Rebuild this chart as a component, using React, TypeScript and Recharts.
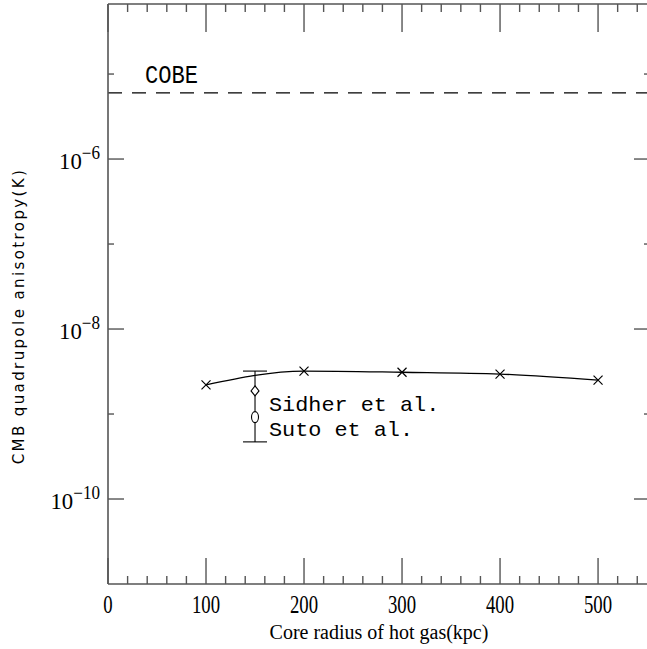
import React from "react";
import {
  ComposedChart,
  Line,
  Scatter,
  XAxis,
  YAxis,
  ReferenceLine,
  ErrorBar,
} from "recharts";

// model: anisotropy vs core radius
const radii = [100, 200, 300, 400, 500];
const anisotropy = [2.2e-9, 3.2e-9, 3.1e-9, 2.95e-9, 2.5e-9];

// observed values at r = 150 kpc
const obsRadius = 150;
const obsLabels = ["Sidher et al.", "Suto et al."];
const obsValues = [1.87e-9, 9.2e-10];
const obsBarLow = 4.7e-10;
const obsBarHigh = 3.2e-9;

const cobeLevel = 6.0e-6;

const xDomain = [0, 553];
const yDomain = [1e-11, 6.67e-5];
const xTicks = [
  0, 20, 40, 60, 80, 100, 120, 140, 160, 180, 200, 220, 240, 260, 280, 300,
  320, 340, 360, 380, 400, 420, 440, 460, 480, 500, 520, 540,
];
const xLabeled = [0, 100, 200, 300, 400, 500];
const yTicks = [1e-10, 1e-9, 1e-8, 1e-7, 1e-6, 1e-5];
const yLabeled = [1e-10, 1e-8, 1e-6];

const frame = "#555";
const serif = "'Liberation Serif', serif";
const mono = "'Liberation Mono', monospace";

const modelData = radii.map((r, i) => ({ r, v: anisotropy[i] }));
const barData = [
  {
    r: obsRadius,
    v: obsValues[0],
    err: [obsValues[0] - obsBarLow, obsBarHigh - obsValues[0]],
  },
];
const sidherData = [{ r: obsRadius, v: obsValues[0], label: obsLabels[0] }];
const sutoData = [{ r: obsRadius, v: obsValues[1], label: obsLabels[1] }];

const isMajorY = (v: number) => yLabeled.some((t) => Math.abs(t - v) / t < 1e-6);

function BottomTick(p: any) {
  const v = p.payload.value;
  const major = xLabeled.includes(v);
  return (
    <g>
      <line x1={p.x} x2={p.x} y1={p.y} y2={p.y - (major ? 26 : 8)} stroke={frame} strokeWidth={1.4} />
      {major && (
        <g transform={`translate(${p.x},${p.y + 29}) scale(0.75,1)`}>
          <text textAnchor="middle" fontFamily={serif} fontSize={25} fill="#000">
            {v}
          </text>
        </g>
      )}
    </g>
  );
}

function TopTick(p: any) {
  const major = xLabeled.includes(p.payload.value);
  return <line x1={p.x} x2={p.x} y1={p.y} y2={p.y + (major ? 28 : 8)} stroke={frame} strokeWidth={1.4} />;
}

function LeftTick(p: any) {
  const v = p.payload.value;
  const major = isMajorY(v);
  const exp = Math.round(Math.log10(v));
  return (
    <g>
      <line x1={p.x} x2={p.x + (major ? 16 : 6)} y1={p.y} y2={p.y} stroke={frame} strokeWidth={1.4} />
      {major && (
        <g transform={`translate(${p.x - 8},${p.y + 10}) scale(0.95,1)`}>
          <text textAnchor="end" fontFamily={serif} fontSize={24} fill="#000">
            10
            <tspan dy={-10} fontSize={18}>
              {"\u2212" + Math.abs(exp)}
            </tspan>
          </text>
        </g>
      )}
    </g>
  );
}

function RightTick(p: any) {
  const major = isMajorY(p.payload.value);
  return <line x1={p.x} x2={p.x - (major ? 16 : 6)} y1={p.y} y2={p.y} stroke={frame} strokeWidth={1.4} />;
}

function Cross(p: any) {
  const { cx, cy } = p;
  const s = 4.5;
  return (
    <path
      key={`c-${p.index}`}
      d={`M${cx - s},${cy - s}L${cx + s},${cy + s}M${cx - s},${cy + s}L${cx + s},${cy - s}`}
      stroke="#000"
      strokeWidth={1.2}
      fill="none"
    />
  );
}

function MonoLabel({ x, y, text, size = 26, sx = 0.85 }: { x: number; y: number; text: string; size?: number; sx?: number }) {
  return (
    <g transform={`translate(${x},${y}) scale(${sx},1)`}>
      <text fontFamily={mono} fontSize={size} fill="#000">
        {text}
      </text>
    </g>
  );
}

function Diamond(p: any) {
  const { cx, cy } = p;
  return (
    <g>
      <path d={`M${cx},${cy - 5}L${cx + 4},${cy}L${cx},${cy + 5}L${cx - 4},${cy}Z`} stroke="#000" strokeWidth={1.1} fill="#fff" />
      <MonoLabel x={cx + 14} y={cy + 20} text={p.payload.label} size={21} sx={1.04} />
    </g>
  );
}

function Oval(p: any) {
  const { cx, cy } = p;
  return (
    <g>
      <ellipse cx={cx} cy={cy} rx={3.5} ry={5.5} stroke="#000" strokeWidth={1.1} fill="#fff" />
      <MonoLabel x={cx + 14} y={cy + 19} text={p.payload.label} size={21} sx={1.04} />
    </g>
  );
}

export default function App() {
  return (
    <div
      style={{
        position: "absolute",
        left: 0,
        top: 0,
        width: 647,
        height: 649,
        overflow: "hidden",
        background: "#fff",
      }}
    >
      <ComposedChart width={660} height={649} margin={{ top: 3, right: 9, bottom: 0, left: 0 }}>
        <XAxis
          dataKey="r"
          type="number"
          domain={xDomain}
          allowDataOverflow
          ticks={xTicks}
          interval={0}
          tickSize={0}
          tickMargin={0}
          tickLine={false}
          height={65}
          axisLine={{ stroke: frame, strokeWidth: 1.6 }}
          tick={(p: any) => <BottomTick {...p} />}
          label={{
            value: "Core radius of hot gas(kpc)",
            position: "insideBottom",
            offset: 10,
            style: { fontFamily: serif, fontSize: 20, fill: "#000" },
          }}
        />
        <XAxis
          xAxisId="top"
          dataKey="r"
          orientation="top"
          type="number"
          domain={xDomain}
          allowDataOverflow
          ticks={xTicks}
          interval={0}
          tickSize={0}
          tickMargin={0}
          tickLine={false}
          height={1}
          axisLine={{ stroke: frame, strokeWidth: 1.6 }}
          tick={(p: any) => <TopTick {...p} />}
        />
        <YAxis
          type="number"
          scale="log"
          domain={yDomain}
          allowDataOverflow
          ticks={yTicks}
          interval={0}
          tickSize={0}
          tickMargin={0}
          tickLine={false}
          width={108}
          axisLine={{ stroke: frame, strokeWidth: 1.6 }}
          tick={(p: any) => <LeftTick {...p} />}
          label={(p: any) => {
            const vb = p.viewBox;
            return (
              <text
                transform={`translate(${vb.x + 19},${vb.y + vb.height / 2 + 22}) rotate(-90)`}
                textAnchor="middle"
                dominantBaseline="central"
                fontFamily="'DejaVu Sans', sans-serif"
                fontSize={15}
                letterSpacing={2.4}
                fill="#000"
              >
                CMB quadrupole anisotropy(K)
              </text>
            );
          }}
        />
        <YAxis
          yAxisId="right"
          orientation="right"
          type="number"
          scale="log"
          domain={yDomain}
          allowDataOverflow
          ticks={yTicks}
          interval={0}
          tickSize={0}
          tickMargin={0}
          tickLine={false}
          width={1}
          axisLine={{ stroke: frame, strokeWidth: 1.6 }}
          tick={(p: any) => <RightTick {...p} />}
        />
        <ReferenceLine
          y={cobeLevel}
          stroke="#000"
          strokeWidth={1.2}
          strokeDasharray="14 10"
          label={(p: any) => {
            const vb = p.viewBox;
            return <MonoLabel x={vb.x + 37} y={vb.y - 10} text="COBE" />;
          }}
        />
        {/* invisible copy so the mirrored top/right frame axes get drawn */}
        <Line
          data={modelData}
          xAxisId="top"
          yAxisId="right"
          dataKey="v"
          stroke="none"
          dot={false}
          activeDot={false}
          legendType="none"
          isAnimationActive={false}
        />
        <Line
          data={modelData}
          dataKey="v"
          type="monotone"
          stroke="#000"
          strokeWidth={1.3}
          dot={(p: any) => <Cross {...p} />}
          activeDot={false}
          isAnimationActive={false}
        />
        <Scatter data={barData} dataKey="v" shape={() => <g />} isAnimationActive={false}>
          <ErrorBar dataKey="err" direction="y" width={12} stroke="#000" strokeWidth={1.1} isAnimationActive={false} />
        </Scatter>
        <Scatter data={sidherData} dataKey="v" shape={(p: any) => <Diamond {...p} />} isAnimationActive={false} />
        <Scatter data={sutoData} dataKey="v" shape={(p: any) => <Oval {...p} />} isAnimationActive={false} />
      </ComposedChart>
    </div>
  );
}
